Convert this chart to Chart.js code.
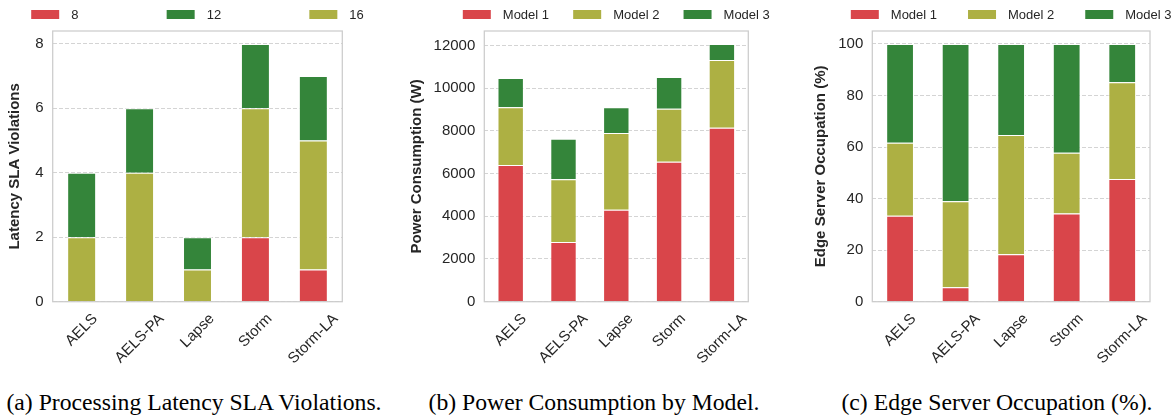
<!DOCTYPE html>
<html>
<head>
<meta charset="utf-8">
<script src="https://cdn.jsdelivr.net/npm/chart.js@4.4.1/dist/chart.umd.min.js"></script>
<style>
  html, body { margin: 0; padding: 0; background: #fff; }
  body { width: 1176px; height: 419px; position: relative; overflow: hidden; }
  canvas { position: absolute; top: 0; }
  .cap {
    position: absolute; top: 390px;
    font-family: "Liberation Serif", "Times New Roman", serif;
    font-size: 23.7px; line-height: 24px; color: #000;
    white-space: nowrap; transform: translateX(-50%);
  }
</style>
</head>
<body>
<canvas id="chartA" width="395" height="380" style="left:0px"></canvas>
<canvas id="chartB" width="395" height="380" style="left:395px"></canvas>
<canvas id="chartC" width="386" height="380" style="left:790px"></canvas>
<div class="cap" style="left:194px">(a) Processing Latency SLA Violations.</div>
<div class="cap" style="left:594px">(b) Power Consumption by Model.</div>
<div class="cap" style="left:997px">(c) Edge Server Occupation (%).</div>

<script>
// Placement strategies compared in every panel
const methods = ['AELS', 'AELS-PA', 'Lapse', 'Storm', 'Storm-LA'];

// (a) latency SLA violations, split by request size
const sla8  = [0, 0, 0, 2, 1];
const sla12 = [2, 2, 1, 2, 2];
const sla16 = [2, 4, 1, 4, 4];
const slaTicks = [0, 2, 4, 6, 8];

// (b) power consumption in watts per model
const powerModel1 = [6400, 2800, 4300, 6550, 8150];
const powerModel2 = [2700, 2930, 3600, 2480, 3170];
const powerModel3 = [1370, 1900, 1200, 1490, 750];
const powerTicks = [0, 2000, 4000, 6000, 8000, 10000, 12000];

// (c) edge server occupation share (%) per model
const occModel1 = [33.3, 5.6, 18.4, 34.2, 47.6];
const occModel2 = [28.4, 33.4, 46.3, 23.6, 37.5];
const occModel3 = [38.3, 61.0, 35.3, 42.2, 14.9];
const occTicks = [0, 20, 40, 60, 80, 100];

const RED = '#d9454a';
const OLIVE = '#adb043';
const GREEN = '#34853a';
const INK = '#262626';
const SANS = '"Liberation Sans", Arial, sans-serif';
const TICK_SIZE = 15;

// light grey box around the plotting area
const framePlugin = {
  id: 'frame',
  afterDatasetsDraw(chart) {
    const { ctx, chartArea: a } = chart;
    ctx.save();
    ctx.strokeStyle = '#cccccc';
    ctx.lineWidth = 1.25;
    ctx.strokeRect(a.left, a.top, a.right - a.left, a.bottom - a.top);
    ctx.restore();
  }
};

// category labels rotated 45 degrees, centred under each bar
const slantedLabels = {
  id: 'slantedLabels',
  afterDraw(chart) {
    const ctx = chart.ctx, xs = chart.scales.x, a = chart.chartArea;
    const size = TICK_SIZE;
    ctx.save();
    ctx.font = size + 'px ' + SANS;
    ctx.fillStyle = INK;
    ctx.textAlign = 'center';
    ctx.textBaseline = 'middle';
    chart.data.labels.forEach((lab, i) => {
      const w = ctx.measureText(lab).width;
      const half = (w + size * 0.8) * Math.SQRT1_2 / 2;
      const x = xs.getPixelForValue(i);
      const y = a.bottom + 10.5 + half;
      ctx.save();
      ctx.translate(x, y);
      ctx.rotate(-Math.PI / 4);
      ctx.fillText(lab, 0, 0);
      ctx.restore();
    });
    ctx.restore();
  }
};

// single-row legend stretched across the top of the panel
const spreadLegend = {
  id: 'spreadLegend',
  afterDraw(chart, args, opts) {
    const ctx = chart.ctx, a = chart.chartArea;
    const ds = chart.data.datasets;
    const order = opts.order || ds.map((_, i) => i);
    const handle = 28, pad = 12, cy = 14.5, extra = 21.5;
    ctx.save();
    ctx.font = '13px ' + SANS;
    ctx.textBaseline = 'middle';
    const widths = order.map(i => handle + pad + ctx.measureText(ds[i].label).width);
    const left = a.left - extra, right = a.right + extra;
    const gap = (right - left - widths.reduce((s, w) => s + w, 0)) / (order.length - 1);
    let x = left;
    order.forEach((i, k) => {
      ctx.fillStyle = ds[i].backgroundColor;
      ctx.fillRect(x, cy - 4.5, handle, 9);
      ctx.fillStyle = INK;
      ctx.fillText(ds[i].label, x + handle + pad, cy + 0.5);
      x += widths[k] + gap;
    });
    ctx.restore();
  }
};

function stackedPanel(id, datasets, cfg) {
  return new Chart(document.getElementById(id), {
    type: 'bar',
    data: { labels: methods, datasets },
    options: {
      responsive: false,
      animation: false,
      layout: { padding: { top: 31, right: cfg.padRight, bottom: 0, left: 0 } },
      datasets: {
        bar: {
          categoryPercentage: 1,
          barPercentage: 0.5,
          borderWidth: 1,
          borderColor: 'rgba(255,255,255,0.9)',
          borderSkipped: 'start'
        }
      },
      plugins: {
        legend: { display: false },
        tooltip: { enabled: false },
        spreadLegend: { order: cfg.legendOrder }
      },
      scales: {
        x: {
          stacked: true,
          offset: true,
          grid: { display: false },
          border: { display: false },
          ticks: { display: false },
          afterFit(s) { s.height = 78.3; }
        },
        y: {
          stacked: true,
          min: 0,
          max: cfg.yMax,
          afterBuildTicks(s) { s.ticks = cfg.ticks.map(v => ({ value: v })); },
          grid: { color: '#d4d4d4', lineWidth: 1, drawTicks: false },
          border: { display: false, dash: [4, 2] },
          ticks: {
            padding: 9, color: INK, font: { family: SANS, size: TICK_SIZE },
            callback: v => String(v)
          },
          title: {
            display: true,
            text: cfg.title,
            color: INK,
            font: { family: SANS, size: 15, weight: 'bold' },
            padding: { top: cfg.titleOffset - 9, bottom: 0 }
          },
          afterFit(s) { s.width = cfg.axisWidth; }
        }
      }
    },
    plugins: [framePlugin, slantedLabels, spreadLegend]
  });
}

stackedPanel('chartA', [
  { label: '8',  data: sla8,  backgroundColor: RED },
  { label: '16', data: sla16, backgroundColor: OLIVE },
  { label: '12', data: sla12, backgroundColor: GREEN }
], { yMax: 8.4, ticks: slaTicks, title: 'Latency SLA Violations',
     axisWidth: 52.7, titleOffset: 15, padRight: 52.7, legendOrder: [0, 2, 1] });

stackedPanel('chartB', [
  { label: 'Model 1', data: powerModel1, backgroundColor: RED },
  { label: 'Model 2', data: powerModel2, backgroundColor: OLIVE },
  { label: 'Model 3', data: powerModel3, backgroundColor: GREEN }
], { yMax: 12675, ticks: powerTicks, title: 'Power Consumption (W)',
     axisWidth: 89.3, titleOffset: 21.5, padRight: 41.7 });

stackedPanel('chartC', [
  { label: 'Model 1', data: occModel1, backgroundColor: RED },
  { label: 'Model 2', data: occModel2, backgroundColor: OLIVE },
  { label: 'Model 3', data: occModel3, backgroundColor: GREEN }
], { yMax: 105, ticks: occTicks, title: 'Edge Server Occupation (%)',
     axisWidth: 82.3, titleOffset: 30.5, padRight: 26 });
</script>
</body>
</html>
